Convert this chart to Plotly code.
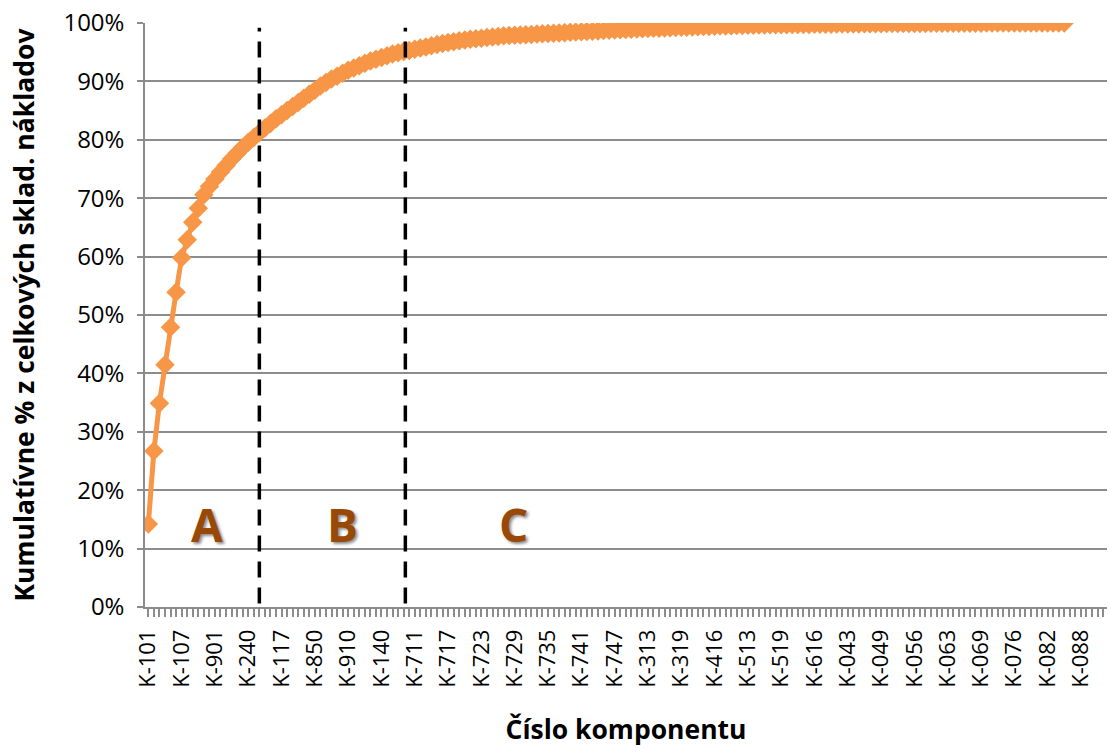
import plotly.graph_objects as go

# Cumulative share of total storage costs (%) for components sorted by cost, descending
cum_pct = [
    14.2, 26.7, 34.9, 41.5, 47.9, 53.9, 59.8, 62.9, 65.9, 68.3,
    70.6, 72.0, 73.3, 74.5, 75.6, 76.7, 77.7, 78.7, 79.6, 80.4,
    81.2, 82.0, 82.8, 83.6, 84.3, 85.0, 85.7, 86.4, 87.1, 87.8,
    88.5, 89.2, 89.8, 90.4, 90.9, 91.4, 91.9, 92.3, 92.7, 93.1,
    93.5, 93.8, 94.1, 94.4, 94.7, 94.9, 95.1, 95.3, 95.5, 95.7,
    95.9, 96.1, 96.3, 96.5, 96.65, 96.8, 96.95, 97.1, 97.2, 97.3,
    97.4, 97.5, 97.6, 97.7, 97.8, 97.85, 97.9, 97.95, 98.0, 98.05,
    98.1, 98.15, 98.2, 98.25, 98.3, 98.35, 98.4, 98.45, 98.5, 98.55,
    98.6, 98.65, 98.7, 98.75, 98.8, 98.84, 98.88, 98.92, 98.96, 99.0,
    99.04, 99.08, 99.12, 99.16, 99.2, 99.23, 99.26, 99.29, 99.32, 99.35,
    99.38, 99.41, 99.44, 99.47, 99.5, 99.53, 99.56, 99.58, 99.6, 99.62,
    99.64, 99.66, 99.68, 99.7, 99.71, 99.72, 99.73, 99.74, 99.75, 99.76,
    99.77, 99.78, 99.79, 99.8, 99.81, 99.82, 99.83, 99.84, 99.85, 99.86,
    99.87, 99.88, 99.89, 99.9, 99.9, 99.91, 99.91, 99.92, 99.92, 99.93,
    99.93, 99.94, 99.94, 99.95, 99.95, 99.96, 99.96, 99.96, 99.97, 99.97,
    99.97, 99.98, 99.98, 99.98, 99.98, 99.99, 99.99, 99.99, 99.99, 99.99,
    100.0, 100.0, 100.0, 100.0, 100.0, 100.0,
]

# Component codes shown on the category axis (every 6th position)
tick_labels = [
    "K-101", "K-107", "K-901", "K-240", "K-117", "K-850", "K-910", "K-140",
    "K-711", "K-717", "K-723", "K-729", "K-735", "K-741", "K-747", "K-313",
    "K-319", "K-416", "K-513", "K-519", "K-616", "K-043", "K-049", "K-056",
    "K-063", "K-069", "K-076", "K-082", "K-088",
]
tick_step = 6

# ABC class boundaries (category position) and class labels
class_bounds = [20.0, 46.3]
class_names = ["A", "B", "C"]
class_label_x = [10.6, 35.0, 65.8]
class_label_y = 0.142

positions = list(range(len(cum_pct)))
tick_pos = [i * tick_step for i in range(len(tick_labels))]

ORANGE = "#F79646"
GRID = "#8C8C8C"
FONT = "Open Sans"

fig = go.Figure()
fig.add_trace(go.Scatter(
    x=positions,
    y=[v / 100 for v in cum_pct],
    mode="lines+markers",
    line=dict(color=ORANGE, width=5),
    marker=dict(symbol="diamond", size=15, color=ORANGE),
    showlegend=False,
    hoverinfo="skip",
))

for xb in class_bounds:
    fig.add_shape(type="line", xref="x", yref="y",
                  x0=xb, x1=xb, y0=0.006, y1=0.992,
                  line=dict(color="black", width=3.5, dash="16px,10px"))

for name, xl in zip(class_names, class_label_x):
    fig.add_annotation(x=xl, y=class_label_y, xref="x", yref="y",
                       text=f"<b>{name}</b>", showarrow=False,
                       font=dict(family=FONT, size=46, color="#984807",
                                 shadow="2px 2px 3px rgba(0,0,0,0.45)"))

fig.update_layout(
    width=1109, height=752,
    margin=dict(l=145, r=2, t=23, b=145),
    paper_bgcolor="white", plot_bgcolor="white",
    font=dict(family=FONT, color="black"),
    xaxis=dict(
        range=[-0.6, 172.7],
        tickmode="array", tickvals=tick_pos, ticktext=tick_labels,
        tickangle=-90, tickfont=dict(size=22, family=FONT, color="black"),
        ticks="outside", ticklen=8, tickwidth=1.5, tickcolor=GRID,
        ticklabelstandoff=4,
        minor=dict(dtick=1, tick0=0, ticks="outside", ticklen=8,
                   tickwidth=1.5, tickcolor=GRID, showgrid=False),
        showline=True, linecolor=GRID, linewidth=1.5,
        showgrid=False, zeroline=False,
        title=dict(text="<b>Číslo komponentu</b>", standoff=34,
                   font=dict(size=26.5, family=FONT, color="black")),
    ),
    yaxis=dict(
        range=[0, 1], tickmode="array",
        tickvals=[i / 10 for i in range(11)],
        ticktext=[f"{i * 10}%" for i in range(11)],
        tickfont=dict(size=24, family=FONT, color="black"),
        ticks="outside", ticklen=6, tickwidth=1.5, tickcolor=GRID,
        ticklabelstandoff=8,
        showline=True, linecolor=GRID, linewidth=1.5,
        showgrid=True, gridcolor=GRID, gridwidth=1.5, zeroline=False,
        title=dict(text="<b>Kumulatívne % z celkových sklad. nákladov</b>",
                   standoff=21, font=dict(size=26.5, family=FONT, color="black")),
    ),
)

fig.write_html("out.html")
